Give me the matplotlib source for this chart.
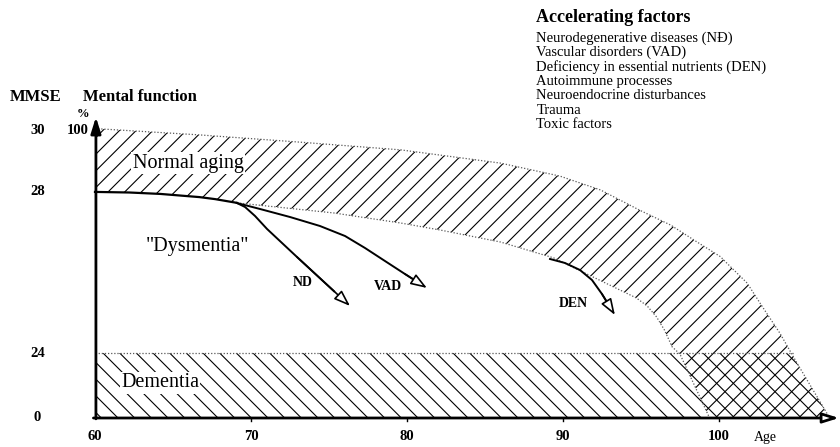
import numpy as np
import matplotlib
matplotlib.use("Agg")
import matplotlib.pyplot as plt

plt.rcParams['font.family'] = ['Liberation Serif', 'DejaVu Serif']
plt.rcParams['hatch.linewidth'] = 0.8

# normal aging band (age, % mental function)
upper_age = [60, 66.7, 73.1, 79.6, 86.0, 89.8, 92.4, 94.9, 96.9, 98.6, 100.1, 100.5, 101.8, 102.8, 103.9, 105.0, 107.1]
upper_pct = [100.5, 98.3, 95.8, 93.1, 88.5, 84.0, 79.2, 72.2, 67.0, 61.1, 56.0, 53.8, 46.9, 38.5, 29.5, 19.1, 0]
lower_age = [60, 62.2, 64.2, 66.7, 67.7, 69.1, 75.3, 79.6, 82.1, 86.0, 89.4, 92.6, 94.7, 95.4, 96.0, 96.5, 97.0, 97.5, 99.4]
lower_pct = [78.5, 78.3, 77.8, 76.7, 76.0, 74.7, 71.2, 67.7, 65.3, 61.1, 55.6, 47.2, 41.7, 38.9, 35.1, 30.6, 24.7, 22.2, 0]
n_solid = 6  # first points drawn as the solid main curve

# dementia zone
dem_age = [60, 60, 104.85, 105.0, 107.1]
dem_pct = [0, 22.5, 22.5, 19.1, 0]

# accelerated decline curves
nd_age = [69.1, 69.62, 70.26, 71.03, 72.95, 76.35]
nd_pct = [74.65, 73.26, 70.14, 65.63, 55.9, 38.89]
vad_age = [69.1, 70.58, 72.5, 74.42, 76.03, 77.31, 78.59, 79.87, 81.28]
vad_pct = [74.65, 72.57, 69.79, 66.67, 63.19, 59.03, 54.51, 50.0, 45.14]
den_age = [89.17, 90.13, 91.09, 91.86, 92.5, 93.33]
den_pct = [55.21, 53.82, 51.39, 47.92, 43.06, 35.76]

age_ticks = [60, 70, 80, 90, 100]
left_labels = [(100, '30', '100'), (78.5, '28', ''), (22.5, '24', ''), (0, '0', '')]
factors = ['Neurodegenerative diseases (NĐ)', 'Vascular disorders (VAD)',
           'Deficiency in essential nutrients (DEN)', 'Autoimmune processes',
           'Neuroendocrine disturbances', 'Trauma', 'Toxic factors']

fig = plt.figure(figsize=(8.4, 4.47), dpi=100)
ax = fig.add_axes([0, 0, 1, 1])
ax.set_xlim(53.91, 107.76)
ax.set_ylim(-10.07, 145.14)
ax.set_axis_off()

# hatched regions
band_x = upper_age + lower_age[::-1]
band_y = upper_pct + lower_pct[::-1]
ax.fill(band_x, band_y, facecolor='none', edgecolor='black', hatch='//', linewidth=0)
ax.fill(dem_age, dem_pct, facecolor='none', edgecolor='black', hatch='\\\\', linewidth=0)

dot = dict(color='0.35', lw=0.9, ls=(0, (1, 1.5)))
ax.plot(upper_age, upper_pct, **dot)
ax.plot(lower_age[n_solid - 1:], lower_pct[n_solid - 1:], **dot)
ax.plot(dem_age[1:3], dem_pct[1:3], **dot)

# main curve
ax.plot(lower_age[:n_solid], lower_pct[:n_solid], color='black', lw=1.6)

for xs, ys in [(nd_age, nd_pct), (vad_age, vad_pct), (den_age, den_pct)]:
    ax.plot(xs[:-1] + [xs[-1] - 0.3 * (xs[-1] - xs[-2])],
            ys[:-1] + [ys[-1] - 0.3 * (ys[-1] - ys[-2])], color='black', lw=1.4)
    ax.annotate('', xy=(xs[-1], ys[-1]), xytext=(xs[-2], ys[-2]),
                arrowprops=dict(arrowstyle='-|>,head_length=0.7,head_width=0.25',
                                mutation_scale=14, fc='white', ec='black', lw=1.2,
                                shrinkA=0, shrinkB=0))

# axes with arrows
ax.annotate('', xy=(60.06, 104.5), xytext=(60.06, -0.3),
            arrowprops=dict(arrowstyle='-|>,head_length=0.8,head_width=0.25',
                            mutation_scale=12, color='black', lw=2, shrinkA=0, shrinkB=0))
ax.annotate('', xy=(107.7, 0), xytext=(59.9, 0),
            arrowprops=dict(arrowstyle='-|>,head_length=0.8,head_width=0.25',
                            mutation_scale=12, fc='white', ec='black', lw=2, shrinkA=0, shrinkB=0))

for t in age_ticks:
    if t > 60:
        ax.plot([t, t], [0, -1.2], color='black', lw=1)
    ax.text(t, -6.3, str(t), ha='center', va='center', fontsize=10.5, fontweight='bold')
ax.text(102.95, -6.9, 'Age', ha='center', va='center', fontsize=10)

for y, mmse, pct in left_labels:
    ax.text(56.3, y, mmse, ha='center', va='center', fontsize=10.5, fontweight='bold')
    if pct:
        ax.text(59.6, y, pct, ha='right', va='center', fontsize=10.5, fontweight='bold')

ax.text(54.55, 111.6, 'MMSE', ha='left', va='center', fontsize=12, fontweight='bold')
ax.text(59.2, 111.6, 'Mental function', ha='left', va='center', fontsize=12, fontweight='bold')
ax.text(59.2, 105.5, '%', ha='center', va='center', fontsize=9, fontweight='bold')

ax.text(65.96, 88.5, 'Normal aging', ha='center', va='center', fontsize=14.5,
        bbox=dict(facecolor='white', edgecolor='none', pad=1))
ax.text(66.6, 59.4, '"Dysmentia"', ha='center', va='center', fontsize=14.5)
ax.text(64.17, 12.2, 'Dementia', ha='center', va='center', fontsize=14.5,
        bbox=dict(facecolor='white', edgecolor='none', pad=1))

ax.text(73.33, 47.2, 'ND', ha='center', va='center', fontsize=10, fontweight='bold')
ax.text(78.78, 45.8, 'VAD', ha='center', va='center', fontsize=10, fontweight='bold')
ax.text(90.64, 39.9, 'DEN', ha='center', va='center', fontsize=10, fontweight='bold')

ax.text(88.3, 138.9, 'Accelerating factors', ha='left', va='center', fontsize=13, fontweight='bold')
for i, f in enumerate(factors):
    ax.text(88.3, 131.9 - i * 5.0, f, ha='left', va='center', fontsize=10.5)

fig.savefig('out.png', dpi=100)
